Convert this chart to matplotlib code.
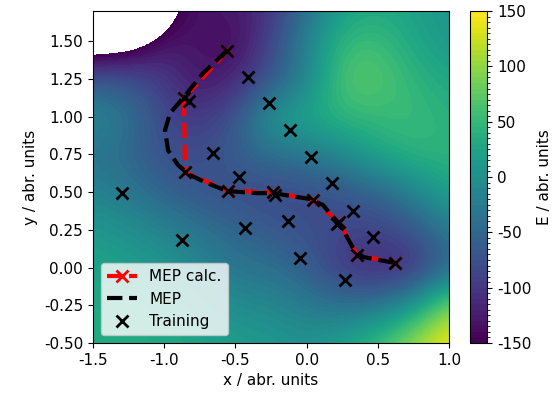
import numpy as np
import matplotlib
matplotlib.use("Agg")
import matplotlib.pyplot as plt
from matplotlib.colors import BoundaryNorm

grid_x = [-1.5, -1.25, -1.0, -0.75, -0.5, -0.25, 0.0, 0.25, 0.5, 0.75, 1.0]
grid_y = [-0.5, -0.25, 0.0, 0.25, 0.5, 0.75, 1.0, 1.25, 1.5, 1.75]
energy = [
    [35, 35, 30, 25, 15, 12, 2, 25, 60, 110, 150],
    [30, 28, 22, 12, -5, -10, -25, -40, -35, 10, 100],
    [25, 18, 8, -12, -35, -38, -60, -100, -115, -110, -50],
    [10, 0, -15, -35, -50, -65, -75, -85, -90, -70, -25],
    [-15, -30, -55, -70, -80, -85, -80, -70, -55, -15, 25],
    [-35, -50, -75, -80, -60, -40, -30, -10, 30, 45, 45],
    [-5, -35, -85, -100, -70, 15, 30, 50, 50, 55, 40],
    [-65, -70, -95, -135, -115, -70, -15, 70, 72, 45, 28],
    [-200, -180, -130, -130, -145, -85, -15, 52, 55, 28, 8],
    [-300, -300, -170, -130, -125, -105, -40, 15, 30, 20, 5],
]

train_x = [-1.296, -0.875, -0.861, -0.826, -0.854, -0.657, -0.559, -0.41, -0.264,
           -0.552, -0.475, -0.433, -0.236, -0.222, -0.117, 0.031, -0.131, -0.046,
           0.045, 0.178, 0.213, 0.228, 0.326, 0.27, 0.466, 0.354, 0.621]
train_y = [0.493, 0.182, 1.123, 1.103, 0.632, 0.758, 1.434, 1.26, 1.089,
           0.507, 0.60, 0.262, 0.50, 0.48, 0.91, 0.732, 0.308, 0.063,
           0.447, 0.56, 0.288, 0.30, 0.374, -0.083, 0.20, 0.083, 0.03]

calc_x = [-0.559, -0.861, -0.854, -0.552, -0.236, 0.045, 0.228, 0.354, 0.621]
calc_y = [1.434, 1.123, 0.632, 0.507, 0.50, 0.447, 0.30, 0.083, 0.03]

mep_x = [-0.561, -0.728, -0.868, -0.959, -0.994, -0.973, -0.903, -0.819, -0.699,
         -0.559, -0.348, -0.236, 0.024, 0.115, 0.185, 0.256, 0.326, 0.396, 0.621]
mep_y = [1.436, 1.288, 1.123, 1.023, 0.911, 0.778, 0.679, 0.613, 0.560,
         0.507, 0.493, 0.493, 0.454, 0.414, 0.334, 0.248, 0.129, 0.070, 0.030]


def main():
    plt.rcParams['font.size'] = 11
    plt.rcParams['axes.unicode_minus'] = False

    fig = plt.figure(figsize=(5.6, 3.96), dpi=100)
    ax = fig.add_axes([0.166, 0.134, 0.636, 0.838])
    cax = fig.add_axes([0.839, 0.134, 0.031, 0.838])

    dx = (grid_x[1] - grid_x[0]) / 2
    dy = (grid_y[1] - grid_y[0]) / 2
    extent = [grid_x[0] - dx, grid_x[-1] + dx, grid_y[0] - dy, grid_y[-1] + dy]

    cmap = plt.get_cmap('viridis').copy()
    cmap.set_under('white')
    norm = BoundaryNorm(np.linspace(-150, 150, 61), cmap.N)
    im = ax.imshow(np.array(energy, dtype=float), origin='lower', extent=extent,
                   cmap=cmap, norm=norm, interpolation='bicubic',
                   interpolation_stage='data', aspect='auto')
    cb = fig.colorbar(im, cax=cax, ticks=np.arange(-150, 151, 50))
    cb.set_label('E / abr. units')

    ax.plot(calc_x, calc_y, color='red', ls='--', lw=3, marker='x', ms=9, mew=2,
            label='MEP calc.')
    ax.plot(mep_x, mep_y, color='black', ls='--', lw=3, label='MEP')
    ax.plot(train_x, train_y, color='black', ls='', marker='x', ms=9, mew=2,
            label='Training')

    ax.set_xlim(-1.5, 1.0)
    ax.set_ylim(-0.5, 1.7)
    ax.set_xticks([-1.5, -1.0, -0.5, 0.0, 0.5, 1.0])
    ax.set_yticks(np.arange(-0.5, 1.51, 0.25))
    ax.set_xlabel('x / abr. units')
    ax.set_ylabel('y / abr. units')
    ax.legend(loc='lower left')

    fig.savefig('out.png')


if __name__ == "__main__":
    main()
